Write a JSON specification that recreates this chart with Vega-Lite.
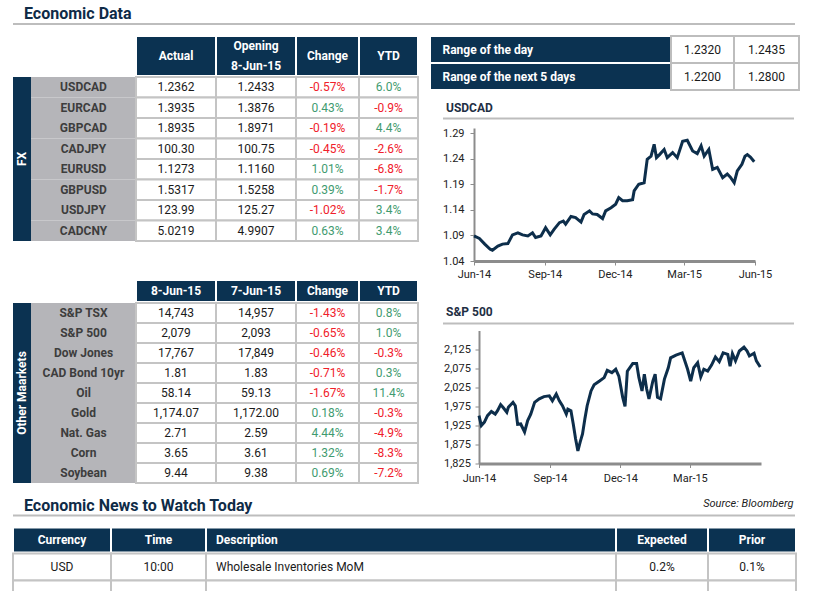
{
 "$schema": "https://vega.github.io/schema/vega-lite/v6.json",
 "padding": {"left": 12, "top": 6, "right": 5, "bottom": 0},
 "spacing": -11.5,
 "config": {
  "font": "Roboto",
  "view": {"stroke": null},
  "text": {"fontSize": 12},
  "axis": {"grid": false, "labelFontSize": 11, "labelColor": "#222222", "domainColor": "#8c8c8c", "tickColor": "#8c8c8c", "labelFont": "Roboto"}
 },
 "datasets": {
  "fx": [
   {"name": "USDCAD", "cur": "1.2362", "prev": "1.2433", "chg": "-0.57%", "ytd": "6.0%"},
   {"name": "EURCAD", "cur": "1.3935", "prev": "1.3876", "chg": "0.43%", "ytd": "-0.9%"},
   {"name": "GBPCAD", "cur": "1.8935", "prev": "1.8971", "chg": "-0.19%", "ytd": "4.4%"},
   {"name": "CADJPY", "cur": "100.30", "prev": "100.75", "chg": "-0.45%", "ytd": "-2.6%"},
   {"name": "EURUSD", "cur": "1.1273", "prev": "1.1160", "chg": "1.01%", "ytd": "-6.8%"},
   {"name": "GBPUSD", "cur": "1.5317", "prev": "1.5258", "chg": "0.39%", "ytd": "-1.7%"},
   {"name": "USDJPY", "cur": "123.99", "prev": "125.27", "chg": "-1.02%", "ytd": "3.4%"},
   {"name": "CADCNY", "cur": "5.0219", "prev": "4.9907", "chg": "0.63%", "ytd": "3.4%"}
  ],
  "oth": [
   {"name": "S&P TSX", "cur": "14,743", "prev": "14,957", "chg": "-1.43%", "ytd": "0.8%"},
   {"name": "S&P 500", "cur": "2,079", "prev": "2,093", "chg": "-0.65%", "ytd": "1.0%"},
   {"name": "Dow Jones", "cur": "17,767", "prev": "17,849", "chg": "-0.46%", "ytd": "-0.3%"},
   {"name": "CAD Bond 10yr", "cur": "1.81", "prev": "1.83", "chg": "-0.71%", "ytd": "0.3%"},
   {"name": "Oil", "cur": "58.14", "prev": "59.13", "chg": "-1.67%", "ytd": "11.4%"},
   {"name": "Gold", "cur": "1,174.07", "prev": "1,172.00", "chg": "0.18%", "ytd": "-0.3%"},
   {"name": "Nat. Gas", "cur": "2.71", "prev": "2.59", "chg": "4.44%", "ytd": "-4.9%"},
   {"name": "Corn", "cur": "3.65", "prev": "3.61", "chg": "1.32%", "ytd": "-8.3%"},
   {"name": "Soybean", "cur": "9.44", "prev": "9.38", "chg": "0.69%", "ytd": "-7.2%"}
  ],
  "rng": [
   {"label": "Range of the day", "lo": "1.2320", "hi": "1.2435"},
   {"label": "Range of the next 5 days", "lo": "1.2200", "hi": "1.2800"}
  ],
  "news": [
   {"row": "1", "Currency": "USD", "Time": "10:00", "Description": "Wholesale Inventories MoM", "Expected": "0.2%", "Prior": "0.1%"},
   {"row": "2", "Currency": "", "Time": "", "Description": "", "Expected": "", "Prior": ""}
  ],
  "usd": [
   {"date": "2014-06-09", "v": 1.089}, {"date": "2014-06-16", "v": 1.084}, {"date": "2014-06-23", "v": 1.073},
   {"date": "2014-06-30", "v": 1.063}, {"date": "2014-07-03", "v": 1.061}, {"date": "2014-07-10", "v": 1.069},
   {"date": "2014-07-16", "v": 1.073}, {"date": "2014-07-23", "v": 1.074}, {"date": "2014-07-29", "v": 1.091},
   {"date": "2014-08-05", "v": 1.095}, {"date": "2014-08-11", "v": 1.091}, {"date": "2014-08-18", "v": 1.089},
   {"date": "2014-08-24", "v": 1.095}, {"date": "2014-08-28", "v": 1.086}, {"date": "2014-09-04", "v": 1.089},
   {"date": "2014-09-10", "v": 1.105}, {"date": "2014-09-16", "v": 1.091}, {"date": "2014-09-21", "v": 1.102},
   {"date": "2014-09-28", "v": 1.115}, {"date": "2014-10-03", "v": 1.118}, {"date": "2014-10-06", "v": 1.112},
   {"date": "2014-10-13", "v": 1.127}, {"date": "2014-10-19", "v": 1.125}, {"date": "2014-10-26", "v": 1.116},
   {"date": "2014-10-30", "v": 1.131}, {"date": "2014-11-06", "v": 1.138}, {"date": "2014-11-10", "v": 1.132},
   {"date": "2014-11-16", "v": 1.131}, {"date": "2014-11-23", "v": 1.123}, {"date": "2014-11-27", "v": 1.138},
   {"date": "2014-12-04", "v": 1.144}, {"date": "2014-12-10", "v": 1.151}, {"date": "2014-12-14", "v": 1.164},
   {"date": "2014-12-19", "v": 1.158}, {"date": "2014-12-25", "v": 1.158}, {"date": "2015-01-01", "v": 1.160},
   {"date": "2015-01-03", "v": 1.177}, {"date": "2015-01-09", "v": 1.190}, {"date": "2015-01-16", "v": 1.193},
   {"date": "2015-01-18", "v": 1.216}, {"date": "2015-01-20", "v": 1.239}, {"date": "2015-01-25", "v": 1.245},
   {"date": "2015-01-29", "v": 1.268}, {"date": "2015-02-01", "v": 1.242}, {"date": "2015-02-05", "v": 1.248},
   {"date": "2015-02-11", "v": 1.258}, {"date": "2015-02-15", "v": 1.242}, {"date": "2015-02-22", "v": 1.252},
   {"date": "2015-02-28", "v": 1.242}, {"date": "2015-03-07", "v": 1.274}, {"date": "2015-03-13", "v": 1.276},
   {"date": "2015-03-20", "v": 1.255}, {"date": "2015-03-26", "v": 1.250}, {"date": "2015-03-31", "v": 1.265},
   {"date": "2015-04-04", "v": 1.245}, {"date": "2015-04-10", "v": 1.258}, {"date": "2015-04-15", "v": 1.219},
   {"date": "2015-04-21", "v": 1.223}, {"date": "2015-04-28", "v": 1.203}, {"date": "2015-05-04", "v": 1.210},
   {"date": "2015-05-08", "v": 1.204}, {"date": "2015-05-13", "v": 1.193}, {"date": "2015-05-17", "v": 1.216},
   {"date": "2015-05-23", "v": 1.229}, {"date": "2015-05-27", "v": 1.245}, {"date": "2015-05-30", "v": 1.248},
   {"date": "2015-06-03", "v": 1.243}, {"date": "2015-06-08", "v": 1.234}
  ],
  "spx": [
   {"date": "2014-06-09", "v": 1951}, {"date": "2014-06-12", "v": 1925}, {"date": "2014-06-16", "v": 1934},
   {"date": "2014-06-20", "v": 1951}, {"date": "2014-06-25", "v": 1962}, {"date": "2014-06-30", "v": 1955},
   {"date": "2014-07-03", "v": 1964}, {"date": "2014-07-07", "v": 1980}, {"date": "2014-07-10", "v": 1973},
   {"date": "2014-07-15", "v": 1960}, {"date": "2014-07-17", "v": 1973}, {"date": "2014-07-23", "v": 1986},
   {"date": "2014-07-26", "v": 1977}, {"date": "2014-07-29", "v": 1928}, {"date": "2014-08-02", "v": 1929},
   {"date": "2014-08-07", "v": 1908}, {"date": "2014-08-11", "v": 1938}, {"date": "2014-08-15", "v": 1955},
   {"date": "2014-08-20", "v": 1986}, {"date": "2014-08-26", "v": 1995}, {"date": "2014-09-01", "v": 2001},
   {"date": "2014-09-08", "v": 2003}, {"date": "2014-09-12", "v": 1990}, {"date": "2014-09-17", "v": 2008},
   {"date": "2014-09-21", "v": 1990}, {"date": "2014-09-25", "v": 1977}, {"date": "2014-09-30", "v": 1955},
   {"date": "2014-10-02", "v": 1968}, {"date": "2014-10-06", "v": 1964}, {"date": "2014-10-09", "v": 1929},
   {"date": "2014-10-12", "v": 1890}, {"date": "2014-10-15", "v": 1858}, {"date": "2014-10-18", "v": 1882},
   {"date": "2014-10-21", "v": 1903}, {"date": "2014-10-24", "v": 1942}, {"date": "2014-10-27", "v": 1977},
   {"date": "2014-11-01", "v": 2016}, {"date": "2014-11-05", "v": 2032}, {"date": "2014-11-12", "v": 2042},
   {"date": "2014-11-18", "v": 2051}, {"date": "2014-11-22", "v": 2070}, {"date": "2014-11-28", "v": 2064},
   {"date": "2014-12-03", "v": 2073}, {"date": "2014-12-07", "v": 2055}, {"date": "2014-12-12", "v": 1999},
   {"date": "2014-12-15", "v": 1975}, {"date": "2014-12-18", "v": 2068}, {"date": "2014-12-25", "v": 2088},
   {"date": "2014-12-30", "v": 2088}, {"date": "2015-01-02", "v": 2051}, {"date": "2015-01-06", "v": 2016},
   {"date": "2015-01-09", "v": 2060}, {"date": "2015-01-12", "v": 2021}, {"date": "2015-01-15", "v": 1995},
   {"date": "2015-01-20", "v": 2042}, {"date": "2015-01-23", "v": 2060}, {"date": "2015-01-26", "v": 1999},
   {"date": "2015-01-30", "v": 1995}, {"date": "2015-02-04", "v": 2047}, {"date": "2015-02-09", "v": 2077},
   {"date": "2015-02-12", "v": 2103}, {"date": "2015-02-19", "v": 2110}, {"date": "2015-02-27", "v": 2116},
   {"date": "2015-03-06", "v": 2073}, {"date": "2015-03-10", "v": 2042}, {"date": "2015-03-14", "v": 2077},
   {"date": "2015-03-19", "v": 2090}, {"date": "2015-03-23", "v": 2053}, {"date": "2015-03-27", "v": 2073},
   {"date": "2015-04-01", "v": 2068}, {"date": "2015-04-06", "v": 2084}, {"date": "2015-04-11", "v": 2105},
   {"date": "2015-04-16", "v": 2093}, {"date": "2015-04-21", "v": 2116}, {"date": "2015-04-27", "v": 2112},
   {"date": "2015-04-30", "v": 2081}, {"date": "2015-05-03", "v": 2114}, {"date": "2015-05-07", "v": 2095},
   {"date": "2015-05-12", "v": 2121}, {"date": "2015-05-18", "v": 2131}, {"date": "2015-05-22", "v": 2121},
   {"date": "2015-05-25", "v": 2108}, {"date": "2015-05-31", "v": 2115}, {"date": "2015-06-03", "v": 2095},
   {"date": "2015-06-08", "v": 2079}
  ]
 },
 "vconcat": [
  {"spacing": 10, "vconcat": [
   {"width": 782, "height": 2, "data": {"values": [{"heading": "Economic Data"}]},
    "mark": {"type": "rect", "fill": "#bdbdbd"},
    "title": {"text": "Economic Data", "anchor": "start", "dx": 11, "offset": 1, "fontSize": 16, "fontWeight": "bold", "color": "#0f2b47"}},
   {"spacing": 10, "hconcat": [
    {"spacing": 37, "vconcat": [
     {"spacing": -2, "vconcat": [
      {"bounds": "flush", "spacing": 0, "hconcat": [
       {"width": 123, "height": 40, "data": {"values": [{}]}, "mark": {"type": "rect", "opacity": 0}},
       {"width": 80, "height": 40, "data": {"values": [{"h": "Actual"}]}, "layer": [
        {"mark": {"type": "rect", "fill": "#0b3251", "stroke": "#ffffff", "strokeWidth": 2}},
        {"mark": {"type": "text", "fill": "#ffffff", "fontWeight": "bold", "fontSize": 12}, "encoding": {"text": {"field": "h"}}}]},
       {"width": 80, "height": 40, "data": {"values": [{"h": "Opening\n8-Jun-15"}]}, "layer": [
        {"mark": {"type": "rect", "fill": "#0b3251", "stroke": "#ffffff", "strokeWidth": 2}},
        {"mark": {"type": "text", "fill": "#ffffff", "fontWeight": "bold", "fontSize": 12, "lineBreak": "\n", "lineHeight": 20, "dy": -10}, "encoding": {"text": {"field": "h"}}}]},
       {"width": 63, "height": 40, "data": {"values": [{"h": "Change"}]}, "layer": [
        {"mark": {"type": "rect", "fill": "#0b3251", "stroke": "#ffffff", "strokeWidth": 2}},
        {"mark": {"type": "text", "fill": "#ffffff", "fontWeight": "bold", "fontSize": 12}, "encoding": {"text": {"field": "h"}}}]},
       {"width": 59, "height": 40, "data": {"values": [{"h": "YTD"}]}, "layer": [
        {"mark": {"type": "rect", "fill": "#0b3251", "stroke": "#ffffff", "strokeWidth": 2}},
        {"mark": {"type": "text", "fill": "#ffffff", "fontWeight": "bold", "fontSize": 12}, "encoding": {"text": {"field": "h"}}}]}
      ]},
      {"bounds": "flush", "spacing": 0, "hconcat": [
       {"width": 18, "height": 164, "data": {"values": [{"section": "FX"}]}, "layer": [
        {"mark": {"type": "rect", "fill": "#0b3251"}},
        {"mark": {"type": "text", "angle": 270, "fill": "#ffffff", "fontWeight": "bold", "fontSize": 12}, "encoding": {"text": {"field": "section"}}}]},
       {"width": 105, "height": 164, "data": {"name": "fx"},
        "encoding": {"y": {"field": "name", "type": "nominal", "sort": null, "axis": null, "scale": {"paddingInner": 0, "paddingOuter": 0}}},
        "layer": [
         {"mark": {"type": "rect", "fill": "#b5b5b9"}},
         {"mark": {"type": "text", "fill": "#3d3d3d", "fontWeight": "bold", "fontSize": 12}, "encoding": {"text": {"field": "name"}}}]},
       {"width": 80, "height": 164, "data": {"name": "fx"},
        "encoding": {"y": {"field": "name", "type": "nominal", "sort": null, "axis": null, "scale": {"paddingInner": 0, "paddingOuter": 0}}},
        "layer": [
         {"mark": {"type": "rect", "fill": "#ffffff", "stroke": "#c4c4c4", "strokeWidth": 2}},
         {"mark": {"type": "text", "fill": "#1a1a1a", "fontSize": 12}, "encoding": {"text": {"field": "cur"}}}]},
       {"width": 80, "height": 164, "data": {"name": "fx"},
        "encoding": {"y": {"field": "name", "type": "nominal", "sort": null, "axis": null, "scale": {"paddingInner": 0, "paddingOuter": 0}}},
        "layer": [
         {"mark": {"type": "rect", "fill": "#ffffff", "stroke": "#c4c4c4", "strokeWidth": 2}},
         {"mark": {"type": "text", "fill": "#1a1a1a", "fontSize": 12}, "encoding": {"text": {"field": "prev"}}}]},
       {"width": 63, "height": 164, "data": {"name": "fx"},
        "encoding": {"y": {"field": "name", "type": "nominal", "sort": null, "axis": null, "scale": {"paddingInner": 0, "paddingOuter": 0}}},
        "layer": [
         {"mark": {"type": "rect", "fill": "#ffffff", "stroke": "#c4c4c4", "strokeWidth": 2}},
         {"mark": {"type": "text", "fontSize": 12}, "encoding": {"text": {"field": "chg"}, "color": {"condition": {"test": "indexof(datum.chg, '-') === 0", "value": "#f0202a"}, "value": "#3f9b70"}}}]},
       {"width": 59, "height": 164, "data": {"name": "fx"},
        "encoding": {"y": {"field": "name", "type": "nominal", "sort": null, "axis": null, "scale": {"paddingInner": 0, "paddingOuter": 0}}},
        "layer": [
         {"mark": {"type": "rect", "fill": "#ffffff", "stroke": "#c4c4c4", "strokeWidth": 2}},
         {"mark": {"type": "text", "fontSize": 12}, "encoding": {"text": {"field": "ytd"}, "color": {"condition": {"test": "indexof(datum.ytd, '-') === 0", "value": "#f0202a"}, "value": "#3f9b70"}}}]}
      ]}
     ]},
     {"spacing": -2, "vconcat": [
      {"bounds": "flush", "spacing": 0, "hconcat": [
       {"width": 123, "height": 22, "data": {"values": [{}]}, "mark": {"type": "rect", "opacity": 0}},
       {"width": 80, "height": 22, "data": {"values": [{"h": "8-Jun-15"}]}, "layer": [
        {"mark": {"type": "rect", "fill": "#0b3251", "stroke": "#ffffff", "strokeWidth": 2}},
        {"mark": {"type": "text", "fill": "#ffffff", "fontWeight": "bold", "fontSize": 12}, "encoding": {"text": {"field": "h"}}}]},
       {"width": 80, "height": 22, "data": {"values": [{"h": "7-Jun-15"}]}, "layer": [
        {"mark": {"type": "rect", "fill": "#0b3251", "stroke": "#ffffff", "strokeWidth": 2}},
        {"mark": {"type": "text", "fill": "#ffffff", "fontWeight": "bold", "fontSize": 12}, "encoding": {"text": {"field": "h"}}}]},
       {"width": 63, "height": 22, "data": {"values": [{"h": "Change"}]}, "layer": [
        {"mark": {"type": "rect", "fill": "#0b3251", "stroke": "#ffffff", "strokeWidth": 2}},
        {"mark": {"type": "text", "fill": "#ffffff", "fontWeight": "bold", "fontSize": 12}, "encoding": {"text": {"field": "h"}}}]},
       {"width": 59, "height": 22, "data": {"values": [{"h": "YTD"}]}, "layer": [
        {"mark": {"type": "rect", "fill": "#0b3251", "stroke": "#ffffff", "strokeWidth": 2}},
        {"mark": {"type": "text", "fill": "#ffffff", "fontWeight": "bold", "fontSize": 12}, "encoding": {"text": {"field": "h"}}}]}
      ]},
      {"bounds": "flush", "spacing": 0, "hconcat": [
       {"width": 18, "height": 180, "data": {"values": [{"section": "Other Maarkets"}]}, "layer": [
        {"mark": {"type": "rect", "fill": "#0b3251"}},
        {"mark": {"type": "text", "angle": 270, "fill": "#ffffff", "fontWeight": "bold", "fontSize": 12}, "encoding": {"text": {"field": "section"}}}]},
       {"width": 105, "height": 180, "data": {"name": "oth"},
        "encoding": {"y": {"field": "name", "type": "nominal", "sort": null, "axis": null, "scale": {"paddingInner": 0, "paddingOuter": 0}}},
        "layer": [
         {"mark": {"type": "rect", "fill": "#b5b5b9"}},
         {"mark": {"type": "text", "fill": "#3d3d3d", "fontWeight": "bold", "fontSize": 12}, "encoding": {"text": {"field": "name"}}}]},
       {"width": 80, "height": 180, "data": {"name": "oth"},
        "encoding": {"y": {"field": "name", "type": "nominal", "sort": null, "axis": null, "scale": {"paddingInner": 0, "paddingOuter": 0}}},
        "layer": [
         {"mark": {"type": "rect", "fill": "#ffffff", "stroke": "#c4c4c4", "strokeWidth": 2}},
         {"mark": {"type": "text", "fill": "#1a1a1a", "fontSize": 12}, "encoding": {"text": {"field": "cur"}}}]},
       {"width": 80, "height": 180, "data": {"name": "oth"},
        "encoding": {"y": {"field": "name", "type": "nominal", "sort": null, "axis": null, "scale": {"paddingInner": 0, "paddingOuter": 0}}},
        "layer": [
         {"mark": {"type": "rect", "fill": "#ffffff", "stroke": "#c4c4c4", "strokeWidth": 2}},
         {"mark": {"type": "text", "fill": "#1a1a1a", "fontSize": 12}, "encoding": {"text": {"field": "prev"}}}]},
       {"width": 63, "height": 180, "data": {"name": "oth"},
        "encoding": {"y": {"field": "name", "type": "nominal", "sort": null, "axis": null, "scale": {"paddingInner": 0, "paddingOuter": 0}}},
        "layer": [
         {"mark": {"type": "rect", "fill": "#ffffff", "stroke": "#c4c4c4", "strokeWidth": 2}},
         {"mark": {"type": "text", "fontSize": 12}, "encoding": {"text": {"field": "chg"}, "color": {"condition": {"test": "indexof(datum.chg, '-') === 0", "value": "#f0202a"}, "value": "#3f9b70"}}}]},
       {"width": 59, "height": 180, "data": {"name": "oth"},
        "encoding": {"y": {"field": "name", "type": "nominal", "sort": null, "axis": null, "scale": {"paddingInner": 0, "paddingOuter": 0}}},
        "layer": [
         {"mark": {"type": "rect", "fill": "#ffffff", "stroke": "#c4c4c4", "strokeWidth": 2}},
         {"mark": {"type": "text", "fontSize": 12}, "encoding": {"text": {"field": "ytd"}, "color": {"condition": {"test": "indexof(datum.ytd, '-') === 0", "value": "#f0202a"}, "value": "#3f9b70"}}}]}
      ]}
     ]}
    ]},
    {"spacing": 26.5, "vconcat": [
     {"spacing": 10.5, "vconcat": [
      {"bounds": "flush", "spacing": 0, "hconcat": [
       {"width": 241, "height": 54, "data": {"name": "rng"},
        "encoding": {"y": {"field": "label", "type": "nominal", "sort": null, "axis": null, "scale": {"paddingInner": 0, "paddingOuter": 0}}},
        "layer": [
         {"mark": {"type": "rect", "fill": "#0b3251", "stroke": "#ffffff", "strokeWidth": 2}},
         {"mark": {"type": "text", "fill": "#ffffff", "fontWeight": "bold", "fontSize": 12, "align": "left", "dx": -108}, "encoding": {"text": {"field": "label"}}}]},
       {"width": 63, "height": 54, "data": {"name": "rng"},
        "encoding": {"y": {"field": "label", "type": "nominal", "sort": null, "axis": null, "scale": {"paddingInner": 0, "paddingOuter": 0}}},
        "layer": [
         {"mark": {"type": "rect", "fill": "#ffffff", "stroke": "#bdbdbd", "strokeWidth": 2}},
         {"mark": {"type": "text", "fill": "#1a1a1a", "fontSize": 12}, "encoding": {"text": {"field": "lo"}}}]},
       {"width": 65, "height": 54, "data": {"name": "rng"},
        "encoding": {"y": {"field": "label", "type": "nominal", "sort": null, "axis": null, "scale": {"paddingInner": 0, "paddingOuter": 0}}},
        "layer": [
         {"mark": {"type": "rect", "fill": "#ffffff", "stroke": "#bdbdbd", "strokeWidth": 2}},
         {"mark": {"type": "text", "fill": "#1a1a1a", "fontSize": 12}, "encoding": {"text": {"field": "hi"}}}]}
      ]},
      {"spacing": 7.5, "vconcat": [
       {"bounds": "flush", "spacing": 0, "hconcat": [
        {"width": 13, "height": 2, "data": {"values": [{}]}, "mark": {"type": "rect", "opacity": 0}},
        {"width": 351, "height": 2, "data": {"values": [{"heading": "USDCAD"}]},
         "mark": {"type": "rect", "fill": "#bdbdbd"},
         "title": {"text": "USDCAD", "anchor": "start", "dx": 3, "offset": 2.5, "fontSize": 12, "fontWeight": "bold", "color": "#1f2f44"}}
       ]},
       {"bounds": "flush", "spacing": 0, "hconcat": [
        {"width": 44, "height": 2, "data": {"values": [{}]}, "mark": {"type": "rect", "opacity": 0}},
        {"width": 281, "height": 133, "data": {"name": "usd"},
         "mark": {"type": "line", "color": "#0d2e4b", "strokeWidth": 3},
         "encoding": {
          "x": {"field": "date", "type": "temporal",
           "scale": {"domain": [{"year": 2014, "month": 6, "date": 9}, {"year": 2015, "month": 6, "date": 9}]},
           "axis": {"title": null, "values": [{"year": 2014, "month": 6, "date": 9}, {"year": 2014, "month": 9, "date": 9}, {"year": 2014, "month": 12, "date": 9}, {"year": 2015, "month": 3, "date": 9}, {"year": 2015, "month": 6, "date": 9}],
            "format": "%b-%y", "labelAngle": 0, "labelFlush": false, "labelOverlap": false, "domainWidth": 3, "tickSize": 4, "labelPadding": 3}},
          "y": {"field": "v", "type": "quantitative",
           "scale": {"domain": [1.04, 1.30], "nice": false, "zero": false},
           "axis": {"title": null, "values": [1.04, 1.09, 1.14, 1.19, 1.24, 1.29], "format": ".2f", "domainWidth": 2, "tickSize": 4, "labelPadding": 6}}
         }}
       ]}
      ]}
     ]},
     {"spacing": 6, "vconcat": [
      {"bounds": "flush", "spacing": 0, "hconcat": [
       {"width": 13, "height": 2, "data": {"values": [{}]}, "mark": {"type": "rect", "opacity": 0}},
       {"width": 351, "height": 2, "data": {"values": [{"heading": "S&P 500"}]},
        "mark": {"type": "rect", "fill": "#bdbdbd"},
        "title": {"text": "S&P 500", "anchor": "start", "dx": 3, "offset": 3.5, "fontSize": 12, "fontWeight": "bold", "color": "#1f2f44"}}
      ]},
      {"bounds": "flush", "spacing": 0, "hconcat": [
       {"width": 49, "height": 2, "data": {"values": [{}]}, "mark": {"type": "rect", "opacity": 0}},
       {"width": 282, "height": 133, "data": {"name": "spx"},
        "mark": {"type": "line", "color": "#0d2e4b", "strokeWidth": 3},
        "encoding": {
         "x": {"field": "date", "type": "temporal",
          "scale": {"domain": [{"year": 2014, "month": 6, "date": 9}, {"year": 2015, "month": 6, "date": 9}]},
          "axis": {"title": "Source: Bloomberg", "titleFontStyle": "italic", "titleFontWeight": "normal", "titleFontSize": 11, "titleColor": "#222222",
           "titleAlign": "right", "titleBaseline": "middle", "titleX": 314, "titleY": 40,
           "values": [{"year": 2014, "month": 6, "date": 9}, {"year": 2014, "month": 9, "date": 9}, {"year": 2014, "month": 12, "date": 9}, {"year": 2015, "month": 3, "date": 9}],
           "format": "%b-%y", "labelAngle": 0, "labelFlush": false, "labelOverlap": false, "domainWidth": 3, "tickSize": 4, "labelPadding": 5}},
         "y": {"field": "v", "type": "quantitative",
          "scale": {"domain": [1825, 2175], "nice": false, "zero": false},
          "axis": {"title": null, "values": [1825, 1875, 1925, 1975, 2025, 2075, 2125], "format": ",.0f", "domainWidth": 2, "tickSize": 4, "labelPadding": 4.6}}
        }}
      ]}
     ]}
    ]}
   ]}
  ]},
  {"spacing": 10, "vconcat": [
   {"width": 782, "height": 2, "data": {"values": [{"heading": "Economic News to Watch Today"}]},
    "mark": {"type": "rect", "fill": "#bdbdbd"},
    "title": {"text": "Economic News to Watch Today", "anchor": "start", "dx": 11, "offset": 1, "fontSize": 16, "fontWeight": "bold", "color": "#0f2b47"}},
   {"spacing": -2, "vconcat": [
    {"bounds": "flush", "spacing": 0, "hconcat": [
     {"width": 98, "height": 25, "data": {"values": [{"h": "Currency"}]}, "layer": [
      {"mark": {"type": "rect", "fill": "#0b3251", "stroke": "#ffffff", "strokeWidth": 2}},
      {"mark": {"type": "text", "fill": "#ffffff", "fontWeight": "bold", "fontSize": 12}, "encoding": {"text": {"field": "h"}}}]},
     {"width": 95, "height": 25, "data": {"values": [{"h": "Time"}]}, "layer": [
      {"mark": {"type": "rect", "fill": "#0b3251", "stroke": "#ffffff", "strokeWidth": 2}},
      {"mark": {"type": "text", "fill": "#ffffff", "fontWeight": "bold", "fontSize": 12}, "encoding": {"text": {"field": "h"}}}]},
     {"width": 410, "height": 25, "data": {"values": [{"h": "Description"}]}, "layer": [
      {"mark": {"type": "rect", "fill": "#0b3251", "stroke": "#ffffff", "strokeWidth": 2}},
      {"mark": {"type": "text", "fill": "#ffffff", "fontWeight": "bold", "fontSize": 12, "align": "left", "dx": -195}, "encoding": {"text": {"field": "h"}}}]},
     {"width": 92, "height": 25, "data": {"values": [{"h": "Expected"}]}, "layer": [
      {"mark": {"type": "rect", "fill": "#0b3251", "stroke": "#ffffff", "strokeWidth": 2}},
      {"mark": {"type": "text", "fill": "#ffffff", "fontWeight": "bold", "fontSize": 12}, "encoding": {"text": {"field": "h"}}}]},
     {"width": 88, "height": 25, "data": {"values": [{"h": "Prior"}]}, "layer": [
      {"mark": {"type": "rect", "fill": "#0b3251", "stroke": "#ffffff", "strokeWidth": 2}},
      {"mark": {"type": "text", "fill": "#ffffff", "fontWeight": "bold", "fontSize": 12}, "encoding": {"text": {"field": "h"}}}]}
    ]},
    {"bounds": "flush", "spacing": 0, "hconcat": [
     {"width": 98, "height": 54, "data": {"name": "news"},
      "encoding": {"y": {"field": "row", "type": "nominal", "sort": null, "axis": null, "scale": {"paddingInner": 0, "paddingOuter": 0}}},
      "layer": [
       {"mark": {"type": "rect", "fill": "#ffffff", "stroke": "#c4c4c4", "strokeWidth": 2}},
       {"mark": {"type": "text", "fill": "#1a1a1a", "fontSize": 12}, "encoding": {"text": {"field": "Currency"}}}]},
     {"width": 95, "height": 54, "data": {"name": "news"},
      "encoding": {"y": {"field": "row", "type": "nominal", "sort": null, "axis": null, "scale": {"paddingInner": 0, "paddingOuter": 0}}},
      "layer": [
       {"mark": {"type": "rect", "fill": "#ffffff", "stroke": "#c4c4c4", "strokeWidth": 2}},
       {"mark": {"type": "text", "fill": "#1a1a1a", "fontSize": 12}, "encoding": {"text": {"field": "Time"}}}]},
     {"width": 410, "height": 54, "data": {"name": "news"},
      "encoding": {"y": {"field": "row", "type": "nominal", "sort": null, "axis": null, "scale": {"paddingInner": 0, "paddingOuter": 0}}},
      "layer": [
       {"mark": {"type": "rect", "fill": "#ffffff", "stroke": "#c4c4c4", "strokeWidth": 2}},
       {"mark": {"type": "text", "fill": "#1a1a1a", "fontSize": 12, "align": "left", "dx": -195}, "encoding": {"text": {"field": "Description"}}}]},
     {"width": 92, "height": 54, "data": {"name": "news"},
      "encoding": {"y": {"field": "row", "type": "nominal", "sort": null, "axis": null, "scale": {"paddingInner": 0, "paddingOuter": 0}}},
      "layer": [
       {"mark": {"type": "rect", "fill": "#ffffff", "stroke": "#c4c4c4", "strokeWidth": 2}},
       {"mark": {"type": "text", "fill": "#1a1a1a", "fontSize": 12}, "encoding": {"text": {"field": "Expected"}}}]},
     {"width": 88, "height": 54, "data": {"name": "news"},
      "encoding": {"y": {"field": "row", "type": "nominal", "sort": null, "axis": null, "scale": {"paddingInner": 0, "paddingOuter": 0}}},
      "layer": [
       {"mark": {"type": "rect", "fill": "#ffffff", "stroke": "#c4c4c4", "strokeWidth": 2}},
       {"mark": {"type": "text", "fill": "#1a1a1a", "fontSize": 12}, "encoding": {"text": {"field": "Prior"}}}]}
    ]}
   ]}
  ]}
 ]
}
